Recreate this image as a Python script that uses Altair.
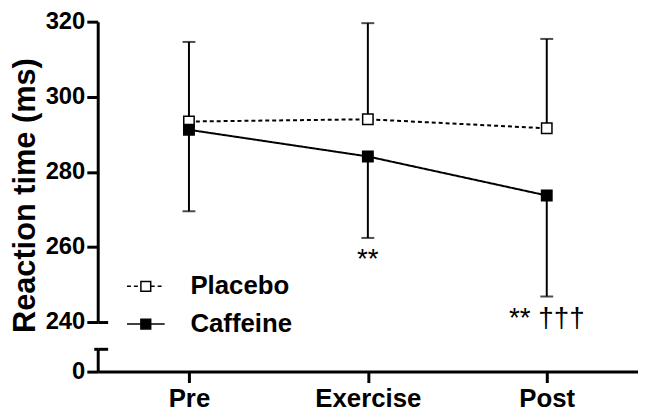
import altair as alt
import pandas as pd

phases = ["Pre", "Exercise", "Post"]
groups = ["Placebo", "Caffeine"]
placebo_mean = [293.4, 294.0, 291.6]
placebo_err_end = [314.6, 319.6, 315.4]
caffeine_mean = [291.2, 284.1, 273.7]
caffeine_err_end = [269.5, 262.4, 246.8]
annot_text = ["**", "** †††"]
annot_phase = ["Exercise", "Post"]
annot_y = [254.5, 238.7]
y_ticks = [240, 260, 280, 300, 320]
y_break_ticks = [0]

rows = []
for g, means, ends in [("Placebo", placebo_mean, placebo_err_end),
                       ("Caffeine", caffeine_mean, caffeine_err_end)]:
    for p, m, e in zip(phases, means, ends):
        rows.append({"group": g, "series": g, "phase": p, "mean": m, "end": e})
df = pd.DataFrame(rows)
annot_df = pd.DataFrame({"phase": annot_phase, "y": annot_y, "text": annot_text})

FONT = "Liberation Sans"
W, H = 545, 353

x_scale = alt.Scale(type="point", domain=phases, range=[0, W], padding=0.51, align=0.5)
yA = alt.Scale(domain=[240, 320], range=[303, 0], nice=False, zero=False)
yB = alt.Scale(domain=[0, 6], range=[H, 330], nice=False, zero=False)

x_axis = alt.Axis(title=None, labelAngle=0, grid=False, domainColor="black", domainWidth=3,
                  tickColor="black", tickWidth=3, tickSize=11, labelFont=FONT, labelFontSize=26,
                  labelFontWeight="bold", labelColor="black", labelPadding=3)
yA_axis = alt.Axis(values=y_ticks, title="Reaction time (ms)", grid=False, orient="left",
                   domainColor="black", domainWidth=3, tickColor="black", tickWidth=3, tickSize=11,
                   labelFont=FONT, labelFontSize=24, labelFontWeight="bold", labelColor="black",
                   labelPadding=2, titleFont=FONT, titleFontSize=31, titleFontWeight="bold",
                   titleColor="black", titleX=-57, titleY=175)

fill_legend = alt.Legend(orient="none", legendX=28.5, legendY=247, title=None, padding=0,
                         symbolType="M-0.26,-0.26H0.26V0.26H-0.26Z", symbolSize=1444,
                         symbolStrokeColor="black", symbolStrokeWidth=1.5, rowPadding=5,
                         labelFont=FONT, labelFontSize=26, labelFontWeight="bold",
                         labelColor="black", labelOffset=25)
dash_legend = alt.Legend(orient="none", legendX=28.5, legendY=247, title=None, padding=0,
                         symbolType="M-1,0H-0.26M0.26,0H1", symbolSize=1444,
                         symbolStrokeColor="black", symbolStrokeWidth=1.5, rowPadding=5,
                         labelFont=FONT, labelFontSize=26, labelFontWeight="bold",
                         labelColor="transparent", labelOffset=25)

X = alt.X("phase:N", scale=x_scale, axis=x_axis, sort=phases)

base = alt.Chart(df).encode(x=X)

rules = base.mark_rule(color="black", strokeWidth=2).encode(
    y=alt.Y("mean:Q", scale=yA, axis=yA_axis), y2="end:Q")
caps = base.mark_tick(color="black", thickness=2, size=13).encode(
    y=alt.Y("end:Q", scale=yA))
lines = base.mark_line(color="black", strokeWidth=2).encode(
    y=alt.Y("mean:Q", scale=yA),
    strokeDash=alt.StrokeDash("series:N", sort=groups,
                              scale=alt.Scale(range=[[4, 3], [1, 0]]), legend=dash_legend))
points = base.mark_point(shape="square", size=110, filled=True, stroke="black",
                         strokeWidth=1.5, opacity=1).encode(
    y=alt.Y("mean:Q", scale=yA),
    fill=alt.Fill("group:N", scale=alt.Scale(domain=groups, range=["white", "black"]),
                  legend=fill_legend))
annots = alt.Chart(annot_df).mark_text(font=FONT, fontSize=28, baseline="alphabetic",
                                       align="center", color="black").encode(
    x=X,
    y=alt.Y("y:Q", scale=yA),
    text="text:N")

data_layer = alt.layer(rules, caps, lines, points, annots)

break_df = pd.DataFrame({"phase": phases, "v": [0, 0, 0]})
layerB = alt.Chart(break_df).mark_point(opacity=0).encode(
    x=X,
    y=alt.Y("v:Q", scale=yB, axis=alt.Axis(values=y_break_ticks, title=None, grid=False,
                                            orient="left", domainColor="black", domainWidth=3,
                                            tickColor="black", tickWidth=3, tickSize=11,
                                            labelFont=FONT, labelFontSize=24,
                                            labelFontWeight="bold", labelColor="black",
                                            labelPadding=2)))
capA_df = pd.DataFrame({"phase": phases, "v": [240, 240, 240]})
layerC = alt.Chart(capA_df).mark_point(opacity=0).encode(
    x=X,
    y=alt.Y("v:Q", scale=yA, axis=alt.Axis(values=[240], title=None, grid=False, orient="right",
                                           offset=-W, domain=False, labels=False,
                                           tickColor="black", tickWidth=3, tickSize=10)))
capB_df = pd.DataFrame({"phase": phases, "v": [6, 6, 6]})
layerD = alt.Chart(capB_df).mark_point(opacity=0).encode(
    x=X,
    y=alt.Y("v:Q", scale=yB, axis=alt.Axis(values=[6], title=None, grid=False, orient="right",
                                           offset=-W, domain=False, labels=False,
                                           tickColor="black", tickWidth=3, tickSize=10)))
layerE = alt.Chart(capB_df).mark_point(opacity=0).encode(
    x=X,
    y=alt.Y("v:Q", scale=yB, axis=alt.Axis(values=[6], title=None, grid=False, orient="left",
                                           domain=False, labels=False,
                                           tickColor="black", tickWidth=3, tickSize=4)))

chart = alt.layer(data_layer, layerB, layerC, layerD, layerE).resolve_scale(
    y="independent").properties(
    width=W, height=H,
    autosize=alt.AutoSizeParams(type="none"),
    padding={"left": 90.5, "top": 12, "right": 0, "bottom": 42},
    background="white",
).configure_view(stroke=None)

chart.save("out.html", embed_options={"renderer": "svg", "actions": False})
